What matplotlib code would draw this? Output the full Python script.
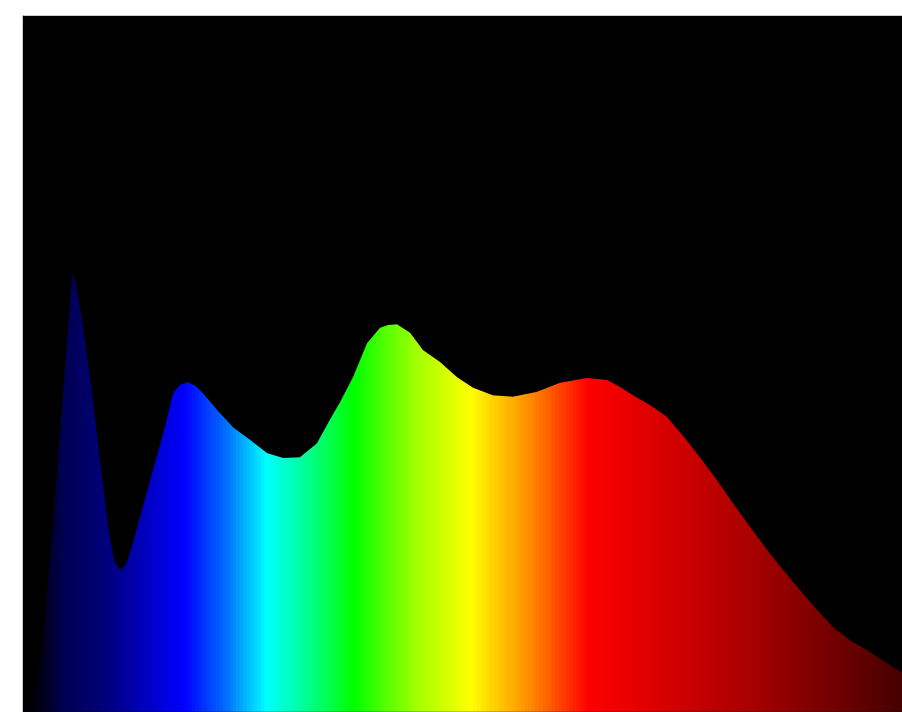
import numpy as np
import matplotlib
matplotlib.use("Agg")
import matplotlib.pyplot as plt
from matplotlib.colors import LinearSegmentedColormap

# Spectrum data (wavelength nm, relative intensity)
wavelength = [380.0, 385.5, 388.6, 391.4, 393.6, 395.9, 398.2, 400.5, 401.8,
              402.7, 404.1, 407.3, 411.4, 415.0, 418.6, 421.4, 424.1, 426.4,
              428.6, 433.2, 439.1, 444.5, 448.2, 451.4, 455.0, 458.6, 461.8,
              468.2, 475.5, 483.2, 490.9, 498.2, 505.9, 513.6, 519.5, 524.1,
              530.0, 536.4, 542.3, 545.9, 550.0, 555.9, 561.8, 569.5, 577.3,
              584.5, 593.6, 602.7, 613.6, 624.1, 636.4, 645.5, 651.4, 657.3,
              665.0, 672.7, 680.5, 687.7, 695.5, 702.7, 710.5, 718.2, 725.5,
              733.2, 740.9, 748.2, 755.9, 763.6, 771.8, 780.0]
intensity = [0.000, 0.032, 0.089, 0.194, 0.266, 0.362, 0.458, 0.553, 0.606,
             0.631, 0.614, 0.553, 0.458, 0.362, 0.266, 0.218, 0.204, 0.210,
             0.228, 0.280, 0.348, 0.409, 0.458, 0.470, 0.474, 0.468, 0.458,
             0.434, 0.409, 0.391, 0.372, 0.365, 0.366, 0.386, 0.420, 0.445,
             0.481, 0.530, 0.552, 0.556, 0.557, 0.545, 0.520, 0.503, 0.481,
             0.466, 0.455, 0.453, 0.460, 0.473, 0.480, 0.477, 0.467, 0.455,
             0.441, 0.424, 0.395, 0.366, 0.333, 0.300, 0.266, 0.233, 0.204,
             0.175, 0.147, 0.122, 0.103, 0.089, 0.072, 0.056]

# Colour stops along wavelength
stop_wl = [380.0, 387.7, 396.8, 417.3, 433.2, 452.7, 471.8, 490.0, 508.2,
           530.0, 558.2, 583.6, 610.5, 637.3, 710.5, 780.0]
stop_rgb = [(0, 0, 0), (0, 0, 25), (0, 0, 80), (0, 0, 125), (0, 0, 185),
            (0, 0, 255), (0, 110, 255), (0, 255, 255), (0, 255, 150),
            (0, 255, 0), (160, 255, 0), (255, 255, 0), (255, 140, 0),
            (255, 0, 0), (170, 0, 0), (70, 0, 0)]

wl_min, wl_max = stop_wl[0], stop_wl[-1]
pos = [(w - wl_min) / (wl_max - wl_min) for w in stop_wl]
cmap = LinearSegmentedColormap.from_list(
    "spec", list(zip(pos, [tuple(c / 255 for c in rgb) for rgb in stop_rgb])))

fig = plt.figure(figsize=(9.03, 7.12), dpi=100)
fig.patch.set_facecolor("white")
ax = fig.add_axes([23 / 903, 0, 880 / 903, 696 / 712])
ax.set_facecolor("black")
ax.set_xlim(wl_min, wl_max)
ax.set_ylim(0, 1)

poly = ax.fill_between(wavelength, intensity, 0, color="none", lw=0)
grad = np.linspace(0, 1, 1000).reshape(1, -1)
im = ax.imshow(grad, cmap=cmap, aspect="auto",
               extent=[wl_min, wl_max, 0, 1], origin="lower",
               interpolation="bilinear")
path = poly.get_paths()[0]
im.set_clip_path(path, transform=ax.transData)

ax.set_xticks([])
ax.set_yticks([])
for s in ax.spines.values():
    s.set_color("black")
    s.set_linewidth(1.0)

fig.savefig("out.png", dpi=100, facecolor="white")
